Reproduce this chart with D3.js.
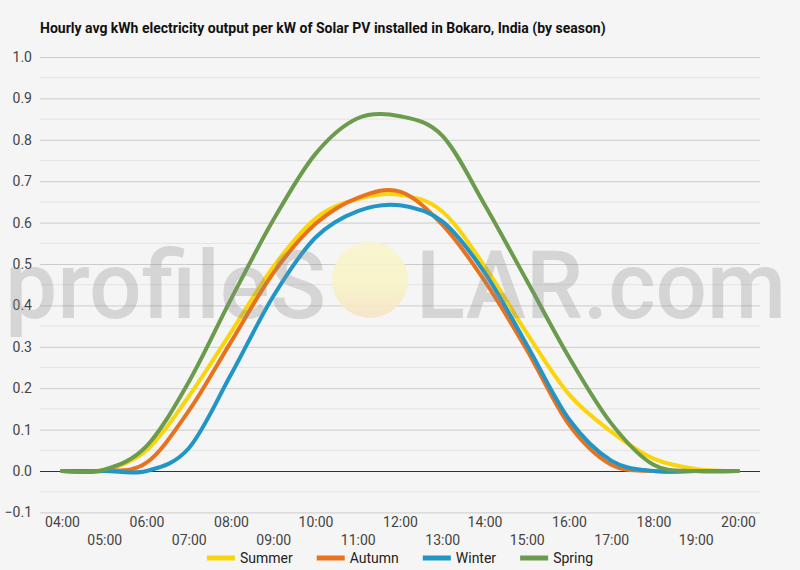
<!DOCTYPE html>
<html>
<head>
<meta charset="utf-8">
<script src="https://cdn.jsdelivr.net/npm/d3@7"></script>
<style>
  body { margin: 0; background: #f5f5f5; }
  svg { display: block; font-family: Roboto, "Noto Sans", sans-serif; }
</style>
</head>
<body>
<div id="chart"></div>
<script>
// hours of the day (x values) and their labels
const hours = [4, 5, 6, 7, 8, 9, 10, 11, 12, 13, 14, 15, 16, 17, 18, 19, 20];
const hourLabels = ["04:00", "05:00", "06:00", "07:00", "08:00", "09:00", "10:00", "11:00", "12:00",
  "13:00", "14:00", "15:00", "16:00", "17:00", "18:00", "19:00", "20:00"];

// kWh per kW
const summer = [0, 0.003, 0.05, 0.18, 0.335, 0.493, 0.61, 0.657, 0.667, 0.627, 0.495, 0.333, 0.185, 0.095, 0.03, 0.005, 0];
const autumn = [0, 0, 0.02, 0.145, 0.312, 0.478, 0.597, 0.66, 0.675, 0.595, 0.46, 0.293, 0.112, 0.015, 0, 0, 0];
const winter = [0, 0, 0, 0.055, 0.233, 0.422, 0.564, 0.628, 0.642, 0.603, 0.48, 0.305, 0.125, 0.025, 0, 0, 0];
const spring = [0, 0.003, 0.06, 0.215, 0.415, 0.606, 0.766, 0.852, 0.857, 0.81, 0.644, 0.46, 0.275, 0.115, 0.015, 0, 0];

const seriesNames = ["Summer", "Autumn", "Winter", "Spring"];
const yTicks = [-0.1, 0, 0.1, 0.2, 0.3, 0.4, 0.5, 0.6, 0.7, 0.8, 0.9, 1.0];

const colors = { Summer: "#fbd50c", Autumn: "#e8721e", Winter: "#2196c6", Spring: "#6b9b4c" };
const seriesData = [summer, autumn, winter, spring];

const W = 800, H = 570;
const plot = { left: 40, right: 760 };

const svg = d3.select("#chart").append("svg")
  .attr("width", W)
  .attr("height", H);

svg.append("rect").attr("width", W).attr("height", H).attr("fill", "#f5f5f5");

// scales
const x = d3.scaleLinear().domain([4, 20]).range([62, 738]);
const y = d3.scaleLinear().domain([-0.1, 1.0]).range([512.4, 57]);

// title
svg.append("text")
  .attr("x", 40)
  .attr("y", 33)
  .attr("font-size", 14)
  .attr("font-weight", "bold")
  .attr("fill", "#111")
  .text("Hourly avg kWh electricity output per kW of Solar PV installed in Bokaro, India (by season)");

// minor grid (every 0.05)
const minor = d3.range(-0.05, 1.0, 0.1);
svg.append("g").selectAll("line")
  .data(minor)
  .join("line")
  .attr("x1", plot.left).attr("x2", plot.right)
  .attr("y1", d => y(d)).attr("y2", d => y(d))
  .attr("stroke", "#e3e3e3")
  .attr("stroke-width", 1);

// major grid + y labels
const yAxis = d3.axisLeft(y)
  .tickValues(yTicks)
  .tickSize(-(plot.right - plot.left))
  .tickPadding(8)
  .tickFormat(d3.format(".1f"));

const gy = svg.append("g")
  .attr("transform", `translate(${plot.left},0)`)
  .call(yAxis);
gy.select(".domain").remove();
gy.selectAll(".tick line")
  .attr("stroke", d => Math.abs(d) < 1e-9 ? "#333" : "#cccccc")
  .attr("stroke-width", 1);
gy.selectAll(".tick text")
  .attr("font-size", 14)
  .attr("fill", "#444")
  .attr("font-family", "Roboto, sans-serif");

// x labels, staggered on two rows
const xAxis = d3.axisBottom(x)
  .tickValues(hours)
  .tickSize(0)
  .tickFormat((d, i) => hourLabels[i]);

const gx = svg.append("g")
  .attr("transform", "translate(0,512)")
  .call(xAxis);
gx.select(".domain").remove();
gx.selectAll(".tick text")
  .attr("font-size", 14)
  .attr("fill", "#444")
  .attr("font-family", "Roboto, sans-serif")
  .attr("dy", null)
  .attr("y", (d, i) => i % 2 === 0 ? 15 : 33);

// lines
const line = d3.line()
  .x((d, i) => x(hours[i]))
  .y(d => y(d))
  .curve(d3.curveCardinal.tension(0));

svg.append("g").selectAll("path")
  .data(seriesData)
  .join("path")
  .attr("d", d => line(d))
  .attr("fill", "none")
  .attr("stroke", (d, i) => colors[seriesNames[i]])
  .attr("stroke-width", 4)
  .attr("stroke-linejoin", "round")
  .attr("stroke-linecap", "round");

// watermark
const defs = svg.append("defs");
const grad = defs.append("linearGradient")
  .attr("id", "sun").attr("x1", 0).attr("y1", 0).attr("x2", 0).attr("y2", 1);
grad.append("stop").attr("offset", "0%").attr("stop-color", "#f8f6cc");
grad.append("stop").attr("offset", "55%").attr("stop-color", "#f8f3c6");
grad.append("stop").attr("offset", "100%").attr("stop-color", "#f6e3c6");

const wm = svg.append("g").attr("pointer-events", "none");
wm.append("text")
  .attr("x", 5).attr("y", 318)
  .attr("font-size", 94)
  .attr("font-weight", 500)
  .attr("fill", "#8c8c8c")
  .attr("fill-opacity", 0.3)
  .attr("textLength", 321)
  .attr("lengthAdjust", "spacingAndGlyphs")
  .text("profileS");
wm.append("circle")
  .attr("cx", 370).attr("cy", 280).attr("r", 38)
  .attr("fill", "url(#sun)")
  .attr("opacity", 0.9);
wm.append("text")
  .attr("x", 416).attr("y", 318)
  .attr("font-size", 94)
  .attr("font-weight", 500)
  .attr("fill", "#8c8c8c")
  .attr("fill-opacity", 0.3)
  .attr("textLength", 370)
  .attr("lengthAdjust", "spacingAndGlyphs")
  .text("LAR.com");

// legend
const legend = svg.append("g").attr("transform", "translate(0,558)");
const items = legend.selectAll("g")
  .data(seriesNames)
  .join("g");
items.append("line")
  .attr("x1", 0).attr("x2", 28)
  .attr("y1", 0).attr("y2", 0)
  .attr("stroke", d => colors[d])
  .attr("stroke-width", 5);
items.append("text")
  .attr("x", 33)
  .attr("y", 5)
  .attr("font-size", 14)
  .attr("fill", "#222")
  .text(d => d);

let widths = [];
items.each(function () {
  widths.push(33 + this.querySelector("text").getComputedTextLength());
});
const gap = 24;
const total = d3.sum(widths) + gap * (widths.length - 1);
let cur = 400 - total / 2;
items.attr("transform", (d, i) => {
  const t = `translate(${cur},0)`;
  cur += widths[i] + gap;
  return t;
});
</script>
</body>
</html>
